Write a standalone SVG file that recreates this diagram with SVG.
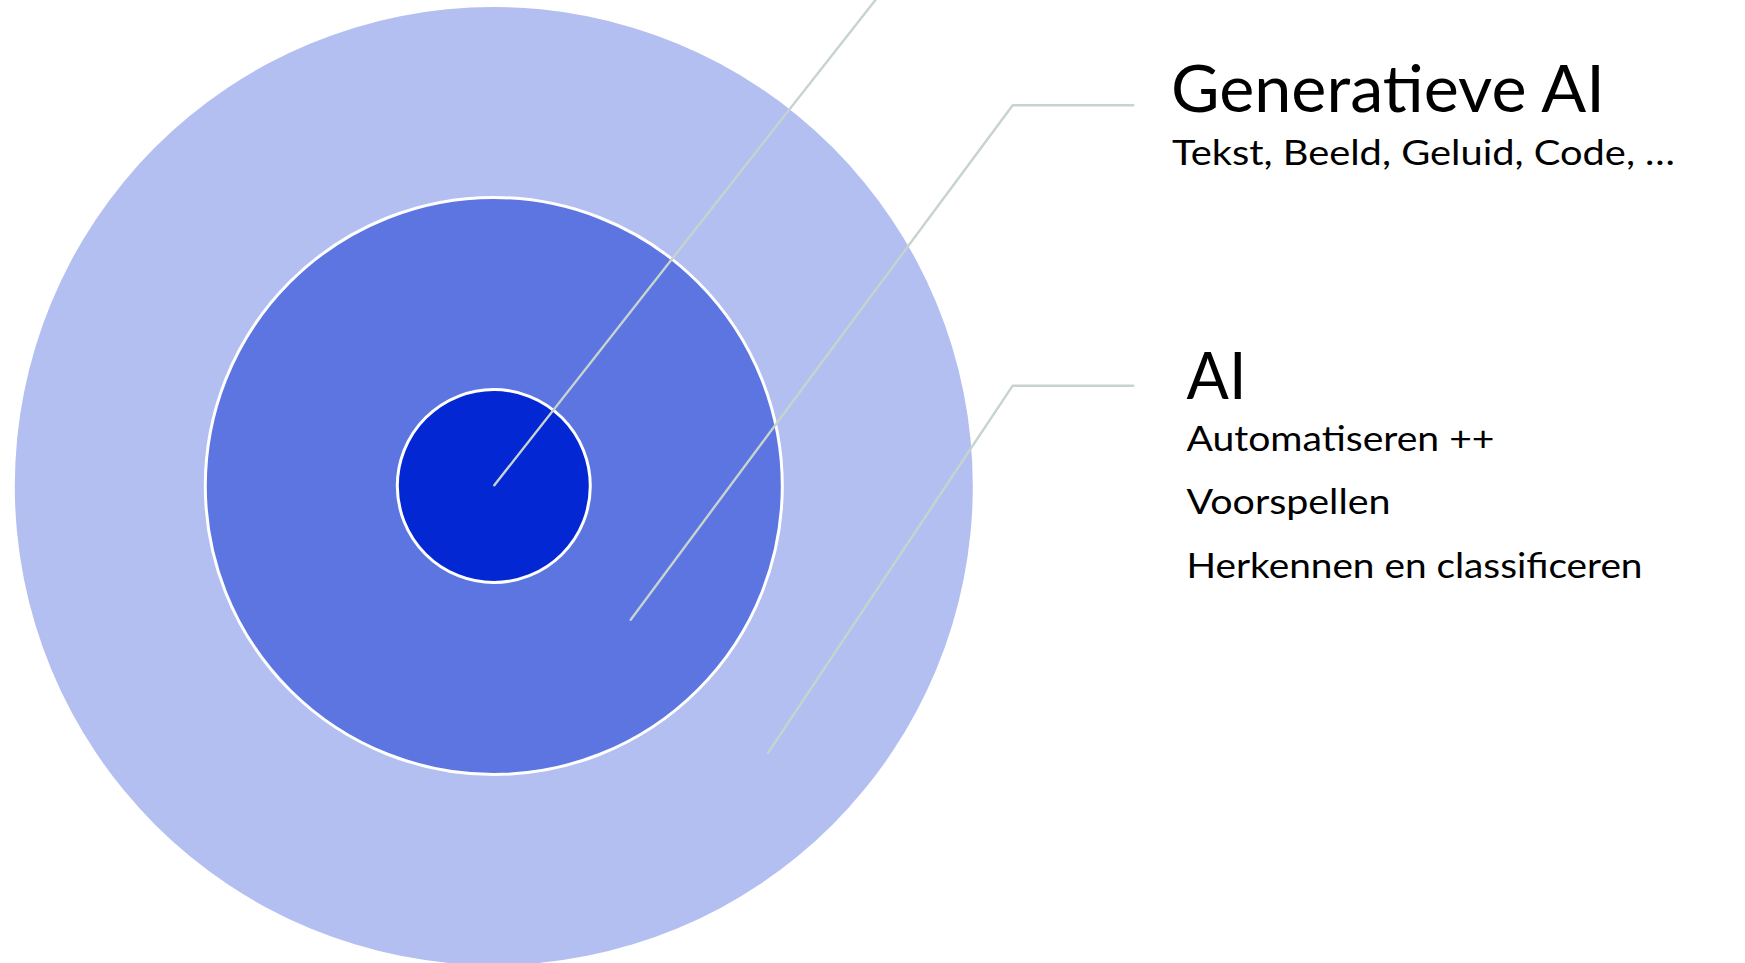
<svg xmlns="http://www.w3.org/2000/svg" width="1745" height="963" viewBox="0 0 1745 963">
<style>
.lead{fill:none;stroke:#C6D3CF;stroke-width:2.4;stroke-linecap:round;stroke-linejoin:round}
.ring{stroke:#FFFFFF;stroke-width:3}
.t{font-family:Lato,"Noto Sans","Liberation Sans",sans-serif;font-weight:400;fill:#000000}
</style>
<rect width="1745" height="963" fill="#FFFFFF"/>
<g id="outer"><circle cx="493.8" cy="486" r="479" fill="#B3BFF0"/></g>
<g id="middle"><circle class="ring" cx="493.8" cy="486" r="288.5" fill="#5D75E0"/></g>
<g id="inner"><circle class="ring" cx="493.8" cy="486" r="96.5" fill="#0328D3"/></g>
<g id="connectors">
<line class="lead" x1="494.3" y1="485.3" x2="877" y2="-2"/>
<polyline class="lead" points="630.7,619.7 1012.7,105.3 1133.3,105.3"/>
<polyline class="lead" points="768,753 1012.7,385.7 1133.3,385.7"/>
</g>
<g id="label-genai">
<text class="t" x="1171" y="112" font-size="65" textLength="434" lengthAdjust="spacingAndGlyphs">Generatieve AI</text>
<text class="t" x="1172" y="165" font-size="35" textLength="503" lengthAdjust="spacingAndGlyphs">Tekst, Beeld, Geluid, Code, …</text>
</g>
<g id="label-ai">
<text class="t" x="1186.5" y="399" font-size="65" textLength="60" lengthAdjust="spacingAndGlyphs">AI</text>
<text class="t" x="1186.5" y="451" font-size="34" textLength="308" lengthAdjust="spacingAndGlyphs">Automatiseren ++</text>
<text class="t" x="1186.5" y="514" font-size="34" textLength="204" lengthAdjust="spacingAndGlyphs">Voorspellen</text>
<text class="t" x="1186.5" y="578" font-size="34" textLength="456" lengthAdjust="spacingAndGlyphs">Herkennen en classificeren</text>
</g>
</svg>
